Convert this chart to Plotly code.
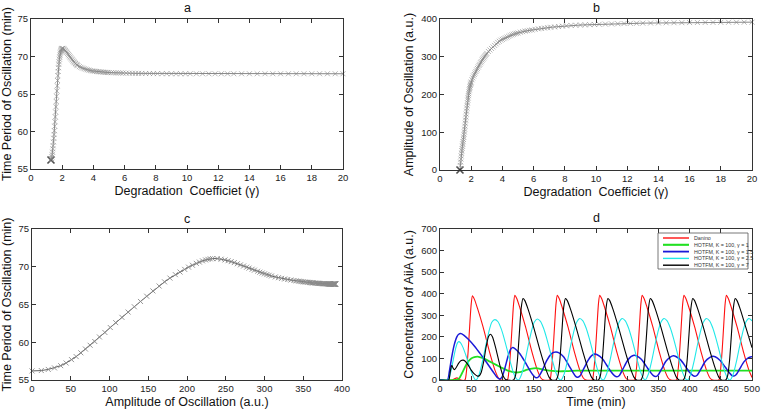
import plotly.graph_objects as go

# ---------------- data: panels a, b, c (parameter sweep) ----------------
gamma = [1.28, 1.30, 1.32, 1.34, 1.36, 1.38, 1.40, 1.42, 1.44, 1.46, 1.48, 1.50, 1.52, 1.54, 1.56, 1.58,
         1.60, 1.62, 1.64, 1.66, 1.68, 1.70, 1.72, 1.74, 1.76, 1.78, 1.80, 1.82, 1.84, 1.86, 1.88, 1.90,
         1.92, 1.94, 1.96, 1.98, 2.00, 2.05, 2.10, 2.15, 2.20, 2.25, 2.30, 2.35, 2.40, 2.45, 2.50, 2.55,
         2.60, 2.65, 2.70, 2.75, 2.80, 2.85, 2.90, 2.95, 3.00, 3.10, 3.20, 3.30, 3.40, 3.50, 3.60, 3.70,
         3.80, 3.90, 4.00, 4.10, 4.20, 4.30, 4.40, 4.50, 4.60, 4.70, 4.80, 4.90, 5.00, 5.15, 5.30, 5.45,
         5.60, 5.75, 5.90, 6.10, 6.30, 6.50, 6.70, 6.90, 7.10, 7.35, 7.60, 7.85, 8.10, 8.40, 8.70, 9.00,
         9.30, 9.60, 9.90, 10.20, 10.60, 11.00, 11.40, 11.80, 12.20, 12.60, 13.00, 13.50, 14.00, 14.50,
         15.00, 15.50, 16.00, 16.50, 17.00, 17.50, 18.00, 18.50, 19.00, 19.50, 20.00]

amplitude = [0, 12, 21, 29, 37, 44, 51, 57, 63, 69, 75, 81, 87, 94, 101, 108,
             116, 124, 132, 140, 148, 156, 164, 171, 178, 185, 191, 197, 202, 207, 212, 216,
             220, 224, 227, 230, 233, 239, 244, 249, 253, 257, 261, 265, 269, 273, 277, 280,
             284, 287, 291, 294, 297, 300, 303, 306, 309, 314, 318, 322, 326, 330, 334, 338,
             341, 344, 346, 348, 350, 352, 354, 356, 358, 359.5, 361, 362, 363, 365, 366.5, 368,
             369, 370, 371, 372.5, 374, 375, 376, 377, 378, 379, 380, 381, 382, 383, 383.5, 384,
             384.5, 385, 385.5, 386, 386.5, 387, 387.5, 388, 388.3, 388.6, 389, 389.3, 389.6, 389.9,
             390.1, 390.3, 390.5, 390.7, 390.9, 391, 391.2, 391.3, 391.4, 391.5, 391.6]

period = [56.2, 56.25, 56.4, 56.6, 56.9, 57.25, 57.7, 58.1, 58.6, 59.1, 59.6, 60.1, 60.7, 61.3, 61.95, 62.6,
          63.3, 64.0, 64.7, 65.4, 66.1, 66.8, 67.45, 68.0, 68.5, 68.95, 69.3, 69.65, 69.95, 70.2, 70.45, 70.62,
          70.78, 70.9, 70.98, 71.05, 71.08, 71.08, 71.0, 70.9, 70.8, 70.68, 70.55, 70.4, 70.25, 70.1, 69.95, 69.82,
          69.67, 69.55, 69.4, 69.28, 69.17, 69.06, 68.96, 68.87, 68.78, 68.65, 68.55, 68.46, 68.38, 68.31, 68.24, 68.18,
          68.13, 68.09, 68.06, 68.03, 68.0, 67.98, 67.96, 67.94, 67.92, 67.9, 67.88, 67.87, 67.86, 67.84, 67.83, 67.82,
          67.81, 67.8, 67.79, 67.78, 67.77, 67.76, 67.75, 67.75, 67.74, 67.73, 67.73, 67.72, 67.72, 67.71, 67.71, 67.7,
          67.7, 67.7, 67.7, 67.7, 67.7, 67.7, 67.7, 67.7, 67.7, 67.7, 67.7, 67.7, 67.7, 67.7,
          67.7, 67.7, 67.7, 67.7, 67.7, 67.7, 67.7, 67.7, 67.7, 67.7, 67.7]

# ---------------- data: panel d (time courses) ----------------
series_names = ["Danino", "HOTFM, K = 100, \u03b3 = 1", "HOTFM, K = 100, \u03b3 = 1.5",
                "HOTFM, K = 100, \u03b3 = 2.5", "HOTFM, K = 100, \u03b3 = 7"]

t_danino = [0, 20, 24, 27, 30, 33, 40, 42, 45, 48, 50, 52, 55, 60, 69, 80, 88, 94, 98,
            108, 110, 113, 116, 118, 120, 123, 128, 137, 148, 156, 162, 166,
            176, 178, 181, 184, 186, 188, 191, 196, 205, 216, 224, 230, 234,
            244, 246, 249, 252, 254, 256, 259, 264, 273, 284, 292, 298, 302,
            312, 314, 317, 320, 322, 324, 327, 332, 341, 352, 360, 366, 370,
            379, 381, 384, 387, 389, 391, 394, 399, 408, 419, 427, 433, 437,
            447, 449, 452, 455, 457, 459, 462, 467, 476, 487, 495, 500]
v_danino = [0, 0, 7, 10, 6, 0, 0, 30, 130, 270, 352, 390, 375, 333, 246, 123, 46, 8, 0,
            0, 30, 130, 270, 355, 393, 378, 335, 247, 123, 46, 8, 0,
            0, 30, 130, 270, 355, 393, 378, 335, 247, 123, 46, 8, 0,
            0, 30, 130, 270, 355, 393, 378, 335, 247, 123, 46, 8, 0,
            0, 30, 130, 270, 355, 393, 378, 335, 247, 123, 46, 8, 0,
            0, 30, 130, 270, 355, 393, 378, 335, 247, 123, 46, 8, 0,
            0, 30, 130, 270, 355, 393, 378, 335, 247, 123, 46, 12]

t_g1 = [0, 25, 30, 35, 40, 45, 50, 55, 60, 65, 70, 80, 90, 100, 110, 120, 130, 140, 150, 155,
        160, 170, 180, 190, 200, 220, 250, 300, 350, 400, 450, 500]
v_g1 = [0, 0, 5, 30, 60, 85, 100, 106, 108, 105, 100, 85, 70, 55, 42, 35, 38, 48, 54, 55,
        52, 46, 42, 40, 41, 43, 43, 43, 43, 43, 43, 43]

t_g15 = [0, 12, 15, 19, 23, 27, 30, 33, 38, 45, 55, 65, 75, 85, 91, 95, 99, 104, 109, 113, 116,
         120, 128, 136, 144, 150, 154, 158, 164, 171, 178, 182, 186, 190, 198, 206, 213, 217, 220,
         224, 230, 237, 243, 248, 252, 260, 268, 275, 280, 283, 287, 293, 300, 306, 311, 315, 323,
         331, 338, 342, 345, 349, 355, 362, 369, 374, 378, 386, 394, 401, 405, 408, 412, 418, 425,
         432, 437, 441, 449, 457, 464, 467, 470, 474, 480, 487, 494, 499, 500]
v_g15 = [0, 0, 40, 110, 165, 200, 212, 215, 208, 190, 158, 120, 80, 38, 14, 5, 12, 55, 110, 142, 150,
         146, 122, 85, 45, 20, 10, 15, 45, 90, 120, 128, 130, 127, 108, 70, 35, 18, 13,
         18, 50, 90, 113, 120, 117, 100, 65, 35, 19, 15, 20, 50, 88, 108, 115, 112, 95,
         62, 33, 20, 16, 21, 50, 87, 106, 112, 109, 92, 60, 32, 21, 17, 22, 50, 86,
         104, 110, 108, 90, 60, 32, 23, 18, 23, 50, 84, 103, 108, 108]

t_g25 = [0, 13, 17, 21, 25, 28, 30, 33, 37, 42, 47, 52, 56, 58,
         63, 68, 73, 78, 83, 88, 93, 98, 103, 108, 113, 118, 123, 126,
         131, 136, 141, 146, 151, 156, 161, 166, 171, 176, 181, 186, 191, 194,
         199, 204, 209, 214, 219, 224, 229, 234, 239, 244, 249, 254, 259, 262,
         267, 272, 277, 282, 287, 292, 297, 302, 307, 312, 317, 322, 327, 329,
         334, 339, 344, 349, 354, 359, 364, 369, 374, 379, 384, 389, 394, 397,
         402, 407, 412, 417, 422, 427, 432, 437, 442, 447, 452, 457, 462, 465,
         470, 475, 480, 485, 490, 495, 500]
v_g25 = [0, 0, 35, 90, 145, 172, 178, 172, 150, 110, 65, 25, 3, 0,
         28, 85, 155, 220, 268, 280, 270, 238, 191, 136, 80, 31, 4, 0,
         28, 85, 155, 220, 268, 283, 272, 240, 193, 138, 82, 32, 4, 0,
         28, 85, 155, 220, 268, 285, 274, 242, 195, 140, 83, 33, 4, 0,
         28, 85, 155, 220, 268, 285, 274, 242, 195, 140, 83, 33, 4, 0,
         28, 85, 155, 220, 268, 285, 274, 242, 195, 140, 83, 33, 4, 0,
         28, 85, 155, 220, 268, 285, 274, 242, 195, 140, 83, 33, 4, 0,
         28, 85, 155, 220, 268, 285, 274]

t_g7 = [0, 14, 16, 18, 19, 21, 23, 26, 30, 34, 37, 40, 45, 50, 55, 60, 63, 66, 70, 74, 78, 81, 84,
        90, 96, 101, 105, 108,
        118, 121, 124, 127, 130, 133, 136, 141, 150, 161, 169, 175, 179,
        186, 189, 192, 195, 198, 201, 204, 209, 218, 229, 237, 243, 247,
        254, 257, 260, 263, 266, 269, 272, 277, 286, 297, 305, 311, 315,
        322, 325, 328, 331, 334, 337, 340, 345, 354, 365, 373, 379, 383,
        390, 393, 396, 399, 402, 405, 408, 413, 422, 433, 441, 447, 451,
        458, 461, 464, 467, 470, 473, 476, 481, 490, 500]
v_g7 = [0, 0, 30, 62, 68, 55, 48, 58, 78, 90, 92, 88, 70, 46, 28, 18, 20, 35, 85, 155, 203, 212, 200,
        140, 68, 20, 3, 0,
        0, 20, 90, 210, 330, 378, 368, 330, 245, 130, 55, 12, 0,
        0, 20, 90, 210, 330, 378, 368, 330, 245, 130, 55, 12, 0,
        0, 20, 90, 210, 330, 378, 368, 330, 245, 130, 55, 12, 0,
        0, 20, 90, 210, 330, 378, 368, 330, 245, 130, 55, 12, 0,
        0, 20, 90, 210, 330, 378, 368, 330, 245, 130, 55, 12, 0,
        0, 20, 90, 210, 330, 378, 368, 330, 245, 150]

x_ticks_gamma = list(range(0, 21, 2))
y_ticks_period = [55, 60, 65, 70, 75]
y_ticks_amp = [0, 100, 200, 300, 400]
x_ticks_amp = [0, 50, 100, 150, 200, 250, 300, 350, 400]
x_ticks_time = [0, 50, 100, 150, 200, 250, 300, 350, 400, 450, 500]
y_ticks_conc = [0, 100, 200, 300, 400, 500, 600, 700]

# ---------------- figure ----------------
W, H = 762, 411
FONT = "Liberation Sans, Arial, sans-serif"


def fx(px):
    return px / W


def fy(py):
    return 1 - py / H


fig = go.Figure()

n = len(gamma)
mcolors = ["#000000"] + ["#8a8a8a"] * (n - 1)
msizes = [7] + [5] * (n - 1)
mwidths = [1.6] + [0.9] * (n - 1)
marker = dict(symbol="x-thin-open", size=msizes, color=mcolors,
              line=dict(width=mwidths, color=mcolors))
line_sw = dict(color="#555555", width=0.7)

fig.add_trace(go.Scatter(x=gamma, y=period, mode="lines+markers", marker=marker, line=line_sw,
                         xaxis="x", yaxis="y", showlegend=False, cliponaxis=False))
fig.add_trace(go.Scatter(x=gamma, y=amplitude, mode="lines+markers", marker=marker, line=line_sw,
                         xaxis="x2", yaxis="y2", showlegend=False, cliponaxis=False))
mc = dict(symbol="x-thin-open", size=5, color="#8a8a8a", line=dict(width=0.9, color="#8a8a8a"))
fig.add_trace(go.Scatter(x=amplitude, y=period, mode="lines+markers", marker=mc,
                         line=dict(color="#333333", width=0.8),
                         xaxis="x3", yaxis="y3", showlegend=False, cliponaxis=False))

d_series = [(t_danino, v_danino, "#ff1010", 1.1),
            (t_g1, v_g1, "#22e022", 1.8),
            (t_g15, v_g15, "#1a1ad8", 1.5),
            (t_g25, v_g25, "#20e8e8", 1.1),
            (t_g7, v_g7, "#000000", 1.1)]
for (tt, vv, col, wd), nm in zip(d_series, series_names):
    fig.add_trace(go.Scatter(x=tt, y=vv, mode="lines", name=nm,
                             line=dict(color=col, width=wd, shape="spline", smoothing=0.7),
                             xaxis="x4", yaxis="y4", showlegend=False))


def ax(dom, rng, ticks, title, anchor, standoff):
    return dict(domain=dom, range=rng, tickmode="array", tickvals=ticks, anchor=anchor,
                showline=True, linecolor="#333333", linewidth=1, mirror="ticks",
                ticks="inside", ticklen=4, tickcolor="#333333", showgrid=False, zeroline=False,
                tickfont=dict(family=FONT, size=9.5, color="#222222"),
                title=dict(text=title, font=dict(family=FONT, size=12.5, color="#111111"),
                           standoff=standoff),
                automargin=False, fixedrange=True)


gtitle = "Degradation\u00a0 Coefficiet (\u03b3)"
fig.update_layout(
    width=W, height=H, margin=dict(l=0, r=0, t=0, b=0),
    paper_bgcolor="white", plot_bgcolor="white", template="none",
    xaxis=ax([fx(31), fx(343)], [0, 20], x_ticks_gamma, gtitle, "y", 3),
    yaxis=ax([fy(169), fy(19)], [55, 75], y_ticks_period, "Time Period of Oscillation (min)", "x", 4),
    xaxis2=ax([fx(440), fx(752)], [0, 20], x_ticks_gamma, gtitle, "y2", 3),
    yaxis2=ax([fy(170), fy(19)], [0, 400], y_ticks_amp, "Amplitude of Oscillation (a.u.)", "x2", 4),
    xaxis3=ax([fx(32), fx(342)], [0, 400], x_ticks_amp, "Amplitude of Oscillation (a.u.)", "y3", 3),
    yaxis3=ax([fy(380), fy(229)], [55, 75], y_ticks_period, "Time Period of Oscillation (min)", "x3", 4),
    xaxis4=ax([fx(440), fx(752)], [0, 500], x_ticks_time, "Time (min)", "y4", 3),
    yaxis4=ax([fy(380), fy(229)], [0, 700], y_ticks_conc, "Concentration of AiiA (a.u.)", "x4", 4),
    showlegend=False, hovermode=False,
)

# panel titles
for label, cx, cy in [("a", 187, 8), ("b", 596, 8), ("c", 187, 219), ("d", 596, 218)]:
    fig.add_annotation(x=fx(cx), y=fy(cy), xref="paper", yref="paper", text=label, showarrow=False,
                       xanchor="center", yanchor="middle",
                       font=dict(family=FONT, size=12.5, color="#111111"))

# legend of panel d (drawn by hand to match the small MATLAB legend)
fig.add_shape(type="rect", xref="paper", yref="paper", x0=fx(658), x1=fx(748), y0=fy(269), y1=fy(233),
              line=dict(color="#555555", width=0.8), fillcolor="white", layer="above")
leg_y = [238, 244.8, 251.6, 258.4, 265.2]
for (tt, vv, col, wd), nm, ly in zip(d_series, series_names, leg_y):
    fig.add_shape(type="line", xref="paper", yref="paper", x0=fx(663), x1=fx(689), y0=fy(ly), y1=fy(ly),
                  line=dict(color=col, width=wd + 0.3), layer="above")
    fig.add_annotation(x=fx(692), y=fy(ly), xref="paper", yref="paper", text=nm, showarrow=False,
                       xanchor="left", yanchor="middle",
                       font=dict(family=FONT, size=5.3, color="#333333"))

fig.write_html("out.html", config={"displayModeBar": False, "staticPlot": True},
               post_script="document.body.style.margin='0';document.body.style.overflow='hidden';")
